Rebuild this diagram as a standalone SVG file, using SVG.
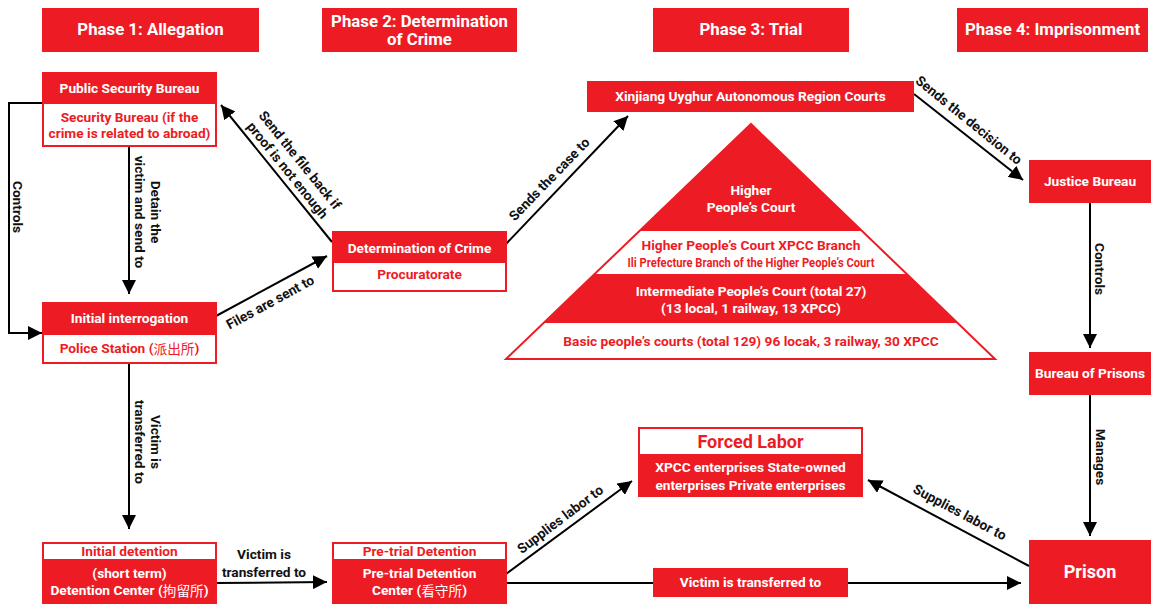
<svg xmlns="http://www.w3.org/2000/svg" width="1151" height="604" viewBox="0 0 1151 604">
<style>
text{font-family:Roboto,"Liberation Sans","Noto Sans CJK SC",sans-serif;font-weight:bold;text-anchor:middle;dominant-baseline:central}
.r{fill:#ED1C24}
.w{fill:#fff;stroke:#ED1C24;stroke-width:2}
.tw{fill:#fff;font-size:13.7px}
.tr{fill:#ED1C24;font-size:13.7px}
.ph{fill:#fff;font-size:16.8px}
.lb{fill:#111;font-size:13.7px}
.e{stroke:#000;stroke-width:2;fill:none;marker-end:url(#ah)}
.cjk{font-family:"Noto Sans CJK SC",sans-serif;font-weight:normal}
</style>
<defs>
<marker id="ah" markerUnits="userSpaceOnUse" markerWidth="14" markerHeight="14" refX="14" refY="7" orient="auto">
<path d="M0,0 L14,7 L0,14 z" fill="#000"/>
</marker>
</defs>
<rect width="1151" height="604" fill="#fff"/>

<g id="phase1"><rect class="r" x="42" y="8" width="217" height="44"/><text class="ph" x="150.5" y="29">Phase 1: Allegation</text></g>
<g id="phase2"><rect class="r" x="322" y="8" width="195" height="44"/><text class="ph" x="419.5" y="20.5">Phase 2: Determination</text><text class="ph" x="419.5" y="38.5">of Crime</text></g>
<g id="phase3"><rect class="r" x="653" y="8" width="196" height="44"/><text class="ph" x="751" y="29">Phase 3: Trial</text></g>
<g id="phase4"><rect class="r" x="957" y="8" width="191" height="44"/><text class="ph" x="1052.5" y="29">Phase 4: Imprisonment</text></g>

<g id="connectors">
<polyline class="e" points="42,103 9,103 9,333 42,333"/>
<line class="e" x1="129" y1="146" x2="129" y2="294"/>
<line class="e" x1="129" y1="364" x2="129" y2="529"/>
<line class="e" x1="216" y1="583" x2="327" y2="582"/>
<line class="e" x1="216" y1="316" x2="327" y2="256"/>
<line class="e" x1="332" y1="242" x2="221" y2="105"/>
<line class="e" x1="506" y1="244" x2="628" y2="116"/>
<line class="e" x1="914" y1="94" x2="1023" y2="180"/>
<line class="e" x1="1090" y1="203" x2="1090" y2="348"/>
<line class="e" x1="1090" y1="395" x2="1090" y2="536"/>
<line class="e" x1="506" y1="574" x2="632" y2="481"/>
<line class="e" x1="1029" y1="566" x2="868" y2="480"/>
<line class="e" x1="506" y1="583" x2="1021" y2="583"/>
<text class="lb" transform="translate(18,207) rotate(90)">Controls</text>
<g transform="translate(147.5,212) rotate(90)"><text class="lb" x="0" y="-8">Detain the</text><text class="lb" x="0" y="8">victim and send to</text></g>
<g transform="translate(147.5,442) rotate(90)"><text class="lb" x="0" y="-8">Victim is</text><text class="lb" x="0" y="8">transferred to</text></g>
<text class="lb" x="264" y="554">Victim is</text>
<text class="lb" x="264" y="572">transferred to</text>
<text class="lb" transform="translate(270,302) rotate(-28.6)">Files are sent to</text>
<g transform="translate(294,165) rotate(51)"><text class="lb" x="0" y="-8">Send the file back if</text><text class="lb" x="0" y="8">proof is not enough</text></g>
<text class="lb" transform="translate(549,179) rotate(-46)">Sends the case to</text>
<text class="lb" transform="translate(969,120) rotate(39)">Sends the decision to</text>
<text class="lb" transform="translate(1100,269) rotate(90)">Controls</text>
<text class="lb" transform="translate(1101,457) rotate(90)">Manages</text>
<text class="lb" transform="translate(560,519) rotate(-37)">Supplies labor to</text>
<text class="lb" transform="translate(960,512) rotate(28)">Supplies labor to</text>
</g>

<g id="public-security-bureau">
<rect class="w" x="43" y="103" width="173" height="43"/>
<rect class="r" x="42" y="72" width="175" height="31"/>
<text class="tw" x="129.5" y="88">Public Security Bureau</text>
<text class="tr" x="129.5" y="117">Security Bureau (if the</text>
<text class="tr" x="129.5" y="133">crime is related to abroad)</text>
</g>
<g id="initial-interrogation">
<rect class="w" x="43" y="334" width="173" height="29"/>
<rect class="r" x="42" y="302" width="175" height="32"/>
<text class="tw" x="129.5" y="318">Initial interrogation</text>
<text class="tr" x="129.5" y="348">Police Station (<tspan class="cjk">派出所</tspan>)</text>
</g>
<g id="initial-detention">
<rect class="w" x="43" y="543" width="173" height="17"/>
<rect class="r" x="42" y="560" width="175" height="44"/>
<text class="tr" x="129.5" y="551">Initial detention</text>
<text class="tw" x="129.5" y="573">(short term)</text>
<text class="tw" x="129.5" y="590">Detention Center (<tspan class="cjk">拘留所</tspan>)</text>
</g>
<g id="pretrial-detention">
<rect class="w" x="333" y="543" width="173" height="17"/>
<rect class="r" x="332" y="560" width="175" height="44"/>
<text class="tr" x="419.5" y="551">Pre-trial Detention</text>
<text class="tw" x="419.5" y="573">Pre-trial Detention</text>
<text class="tw" x="419.5" y="590">Center (<tspan class="cjk">看守所</tspan>)</text>
</g>
<g id="determination">
<rect class="w" x="333" y="262" width="173" height="29"/>
<rect class="r" x="332" y="231" width="175" height="31"/>
<text class="tw" x="419.5" y="248">Determination of Crime</text>
<text class="tr" x="419.5" y="274">Procuratorate</text>
</g>
<g id="xinjiang-courts">
<rect class="r" x="587" y="81" width="327" height="31"/>
<text class="tw" x="750.5" y="96">Xinjiang Uyghur Autonomous Region Courts</text>
</g>
<g id="court-pyramid">
<polygon points="751,124 995,359 506,359" fill="#fff"/>
<polygon class="r" points="751,124 862.3,231 639.7,231"/>
<polygon class="r" points="595,274 907,274 958,323 544,323"/>
<polygon points="751,124 995,359 506,359" fill="none" stroke="#ED1C24" stroke-width="2"/>
<text class="tw" x="751" y="190">Higher</text>
<text class="tw" x="751" y="207">People’s Court</text>
<text class="tr" x="751" y="245">Higher People’s Court XPCC Branch</text>
<text class="tr" x="751" y="262" style="font-size:12.5px" textLength="247" lengthAdjust="spacingAndGlyphs">Ili Prefecture Branch of the Higher People’s Court</text>
<text class="tw" x="751" y="291">Intermediate People’s Court (total 27)</text>
<text class="tw" x="751" y="308">(13 local, 1 railway, 13 XPCC)</text>
<text class="tr" x="751" y="341">Basic people’s courts (total 129) 96 locak, 3 railway, 30 XPCC</text>
</g>
<g id="justice-bureau">
<rect class="r" x="1029" y="160" width="122" height="43"/>
<text class="tw" x="1090" y="181">Justice Bureau</text>
</g>
<g id="bureau-of-prisons">
<rect class="r" x="1029" y="352" width="122" height="43"/>
<text class="tw" x="1090" y="373">Bureau of Prisons</text>
</g>
<g id="prison">
<rect class="r" x="1029" y="540" width="122" height="64"/>
<text class="tw" x="1090" y="571" style="font-size:18px">Prison</text>
</g>
<g id="forced-labor">
<rect class="w" x="639" y="428" width="223" height="27"/>
<rect class="r" x="638" y="455" width="225" height="42"/>
<text class="tr" x="750.5" y="441" style="font-size:18px">Forced Labor</text>
<text class="tw" x="750.5" y="467">XPCC enterprises State-owned</text>
<text class="tw" x="750.5" y="485">enterprises Private enterprises</text>
</g>
<g id="transfer-label">
<rect class="r" x="653" y="568" width="195" height="29"/>
<text class="tw" x="750.5" y="582">Victim is transferred to</text>
</g>
</svg>
